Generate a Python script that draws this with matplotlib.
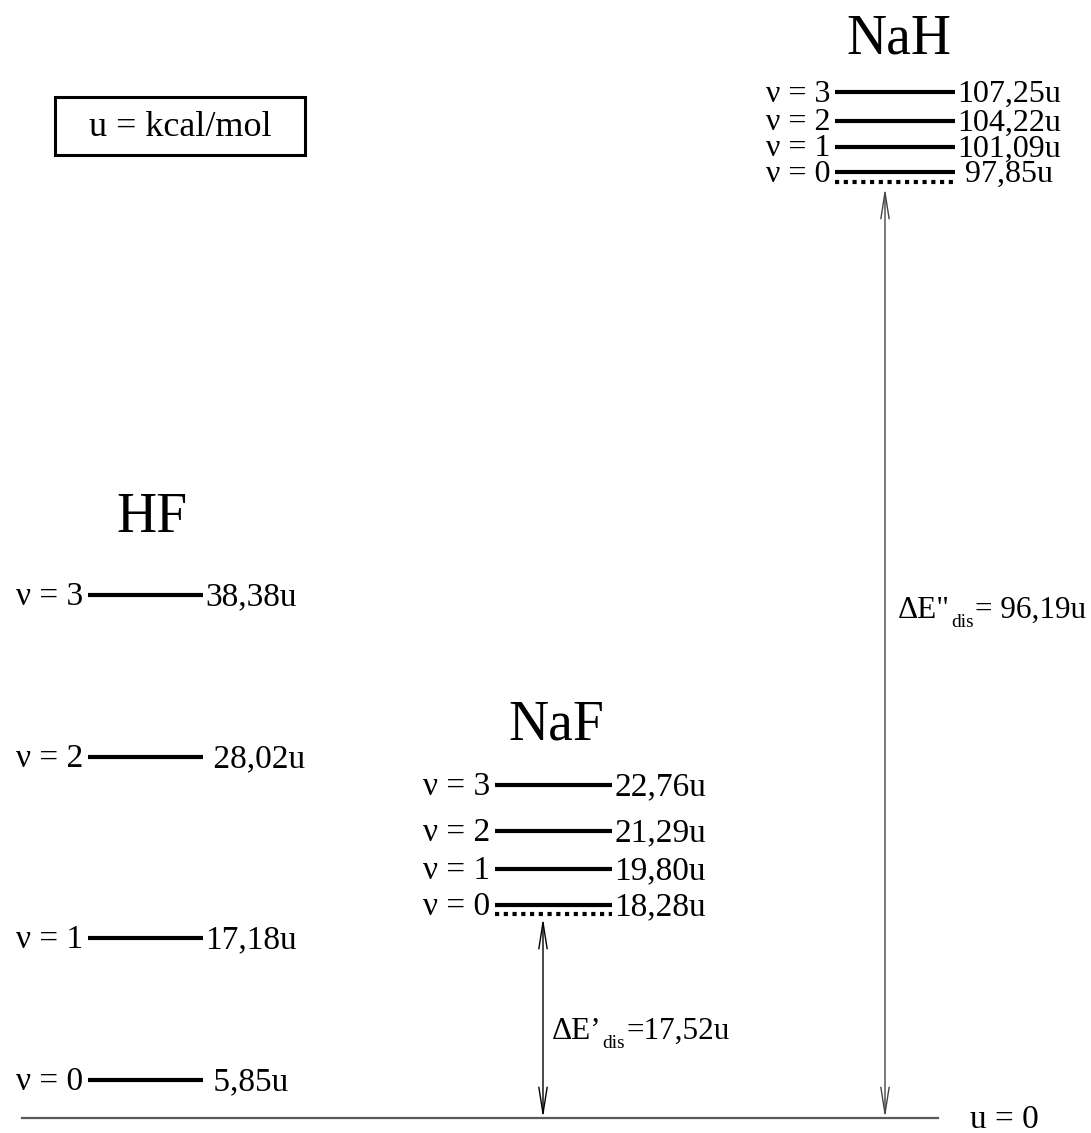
import matplotlib
matplotlib.use("Agg")
import matplotlib.pyplot as plt
from matplotlib.patches import Rectangle

plt.rcParams["font.family"] = ["Liberation Serif", "DejaVu Serif"]

# Energiewerte (kcal/mol)
molecules = ["HF", "NaF", "NaH"]
levels = ["ν = 0", "ν = 1", "ν = 2", "ν = 3"]
hf_values = [" 5,85u", "17,18u", " 28,02u", "38,38u"]
naf_values = ["18,28u", "19,80u", "21,29u", "22,76u"]
nah_values = [" 97,85u", "101,09u", "104,22u", "107,25u"]
naf_dis = "=17,52u"
nah_dis = "= 96,19u"

# schematische Lage (Diagramm nicht maßstäblich, Pixel von oben)
hf_y = [1080, 938, 757, 595]
naf_y = [905, 869, 831, 785]
nah_y = [172, 147, 121, 92]
base_y = 1118

fig = plt.figure(figsize=(10.91, 11.33), dpi=100)
ax = fig.add_axes([0, 0, 1, 1])
ax.set_xlim(0, 1091)
ax.set_ylim(1133, 0)
ax.axis("off")

fs_title = 40


def draw_molecule(name, x0, x1, ys, values, title_x, title_y, dotted_y=None,
                  fs=24):
    ax.text(title_x, title_y, name, fontsize=fs_title, ha="center", va="baseline")
    for y, lab, val in zip(ys, levels, values):
        ax.plot([x0, x1], [y, y], color="black", lw=3.0, solid_capstyle="butt")
        ax.text(x0 - 5, y + 2, lab, fontsize=fs, ha="right", va="center")
        ax.text(x1 + 2, y + 2, val, fontsize=fs, ha="left", va="center")
    if dotted_y is not None:
        ax.plot([x0, x1], [dotted_y, dotted_y], color="black", lw=3.0,
                linestyle=(0, (1, 1.1)), dash_capstyle="butt")


draw_molecule("HF", 88, 203, hf_y, hf_values, 152, 532)
draw_molecule("NaF", 495, 612, naf_y, naf_values, 556, 740, dotted_y=914)
draw_molecule("NaH", 835, 955, nah_y, nah_values, 899, 53, dotted_y=182, fs=23)

# Nulllinie
ax.plot([22, 938], [base_y, base_y], color="#5a5a5a", lw=1.6)
ax.text(970, base_y + 2, "u = 0", fontsize=24, ha="left", va="center")

# Dissoziationsenergien
arrow = dict(arrowstyle="<->,head_length=1.9,head_width=0.3", lw=1.0,
             shrinkA=0, shrinkB=0)
ax.annotate("", xy=(543, 918), xytext=(543, base_y),
            arrowprops=dict(arrow, color="black"))
ax.annotate("", xy=(885, 188), xytext=(885, base_y),
            arrowprops=dict(arrow, color="#444444"))

renderer = fig.canvas.get_renderer()


def dis_label(x, y, head, tail, fs=23):
    # Text mit tief gesetztem Index "dis"
    t1 = ax.text(x, y, head, fontsize=fs, ha="left", va="baseline")
    e1 = t1.get_window_extent(renderer)
    x2 = ax.transData.inverted().transform((e1.x1 + 1, 0))[0]
    t2 = ax.text(x2, y + 9, "dis", fontsize=fs * 0.62, ha="left", va="baseline")
    e2 = t2.get_window_extent(renderer)
    x3 = ax.transData.inverted().transform((e2.x1 + 1, 0))[0]
    ax.text(x3, y, tail, fontsize=fs, ha="left", va="baseline")


dis_label(552, 1039, "ΔE’", naf_dis, fs=22.5)
dis_label(898, 618, "ΔE\"", nah_dis, fs=22.5)

# Einheit
ax.add_patch(Rectangle((55, 97), 250, 58, fill=False, lw=2.2, ec="black"))
ax.text(180, 128, "u = kcal/mol", fontsize=26, ha="center", va="center")

fig.savefig("out.png", dpi=100)
